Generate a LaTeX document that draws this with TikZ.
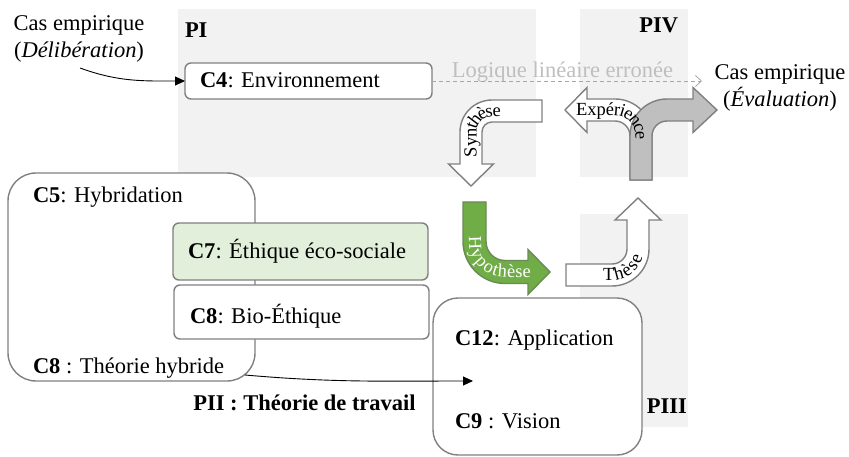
\documentclass[tikz,border=0pt]{standalone}
\usepackage{fontspec}
\setmainfont{Liberation Serif}
\usetikzlibrary{arrows.meta,decorations.text}

\definecolor{bgpanel}{HTML}{F2F2F2}
\definecolor{edgegray}{HTML}{808080}
\definecolor{arrowgray}{HTML}{BFBFBF}
\definecolor{leafgreen}{HTML}{70AD47}
\definecolor{leafedge}{HTML}{6A8A58}
\definecolor{paleleaf}{HTML}{E2EFDA}
\definecolor{faintgray}{HTML}{BFBFBF}
\definecolor{dashgray}{HTML}{A6A6A6}

\newcommand\bodysize{\fontsize{22.5}{27}\selectfont}
\newcommand\arrowsize{\fontsize{18.5}{18.5}\selectfont}

\begin{document}
\begin{tikzpicture}[x=1pt,y=1pt,
  every node/.style={inner sep=0pt, outer sep=0pt},
  txt/.style={font=\bodysize},
  panellbl/.style={font=\bodysize\bfseries},
  cbox/.style={draw=edgegray, line width=1.4pt, rounded corners=6pt, fill=white},
  link/.style={line width=0.9pt, -{Triangle[length=10pt,width=9pt]}},
  blockw/.style={draw=edgegray, line width=1.4pt, fill=white},
  blockg/.style={draw=edgegray, line width=1.4pt, fill=arrowgray},
  blockgreen/.style={draw=leafedge, line width=1.4pt, fill=leafgreen},
  bendtext/.style={decorate, decoration={text along path, text align=left, raise=-5.5pt, text={#1}}}
]
\useasboundingbox (0,0) rectangle (849,456);

% phase panels
\fill[bgpanel] (178,279) rectangle (536,447);
\fill[bgpanel] (580,279) rectangle (688,447);
\fill[bgpanel] (580,29) rectangle (688,242);

% phase titles
\node[panellbl, anchor=base west] (pI) at (185,418) {PI};
\node[panellbl, anchor=base east] (pIV) at (678,423) {PIV};
\node[panellbl, anchor=base east] (pIII) at (687,43) {PIII};
\node[panellbl, anchor=base] (pII) at (304.5,46) {PII : Théorie de travail};

% concept boxes
\node[cbox, rounded corners=28pt, minimum width=247pt, minimum height=208pt, anchor=south west] (c5) at (8,75) {};
\node[cbox, fill=paleleaf, minimum width=255pt, minimum height=57pt, anchor=south west] (c7) at (173,176) {};
\node[cbox, minimum width=255pt, minimum height=54pt, anchor=south west] (c8) at (174,117) {};
\node[cbox, rounded corners=25pt, minimum width=209pt, minimum height=157pt, anchor=south west] (c12) at (433,1) {};
\node[cbox, minimum width=247pt, minimum height=36pt, anchor=south west] (c4) at (185,357) {};

% box texts
\node[txt, anchor=base west] (t4) at (200,368) {\textbf{C4}: Environnement};
\node[txt, anchor=base west] (t5) at (33,253) {\textbf{C5}: Hybridation};
\node[txt, anchor=base west] (t7) at (188,198) {\textbf{C7}: Éthique éco-sociale};
\node[txt, anchor=base west] (t8) at (190,133) {\textbf{C8}: Bio-Éthique};
\node[txt, anchor=base west] (t8h) at (33,83) {\textbf{C8} : Théorie hybride};
\node[txt, anchor=base west] (t12) at (455,111) {\textbf{C12}: Application};
\node[txt, anchor=base west] (t9) at (455,28) {\textbf{C9} : Vision};

% empirical cases
\node[txt, align=center] (casL) at (79,416.75) {Cas empirique\\(\textit{Délibération})};
\node[txt, align=center] (casR) at (780,368) {Cas empirique\\(\textit{Évaluation})};
\node[txt, text=faintgray, anchor=base] (logic) at (562.5,378) {Logique linéaire erronée};

% connectors
\coordinate (delib) at (80,388);
\coordinate (logend) at (702,375);
\coordinate (c5out) at (245,81);
\coordinate (c12in) at (473,75);

\draw[link] (delib) to[out=-20,in=180] (c4.west);
\draw[dashgray, line width=0.8pt, dash pattern=on 4pt off 3pt,
      -{Straight Barb[length=6pt,width=11pt]}] (c4.east) -- (logend);
\draw[link] (c5out) to[out=-5,in=180] (c12in);

% Synthese bent arrow
\filldraw[blockw] (542,356) -- (492,356) arc[start angle=90,end angle=180,radius=32]
  -- (460,292) -- (448.5,292) -- (471,270) -- (493.5,292) -- (482,292) -- (482,324)
  arc[start angle=180,end angle=90,radius=10] -- (542,334) -- cycle;
\path[bendtext={|\arrowsize|Synthèse}] (471,299) -- (471,324)
  arc[start angle=180,end angle=90,radius=21] -- (535,345);

% Experience split arrow: white branch behind, grey branch in front
\filldraw[blockw] (652,276) -- (652,320) arc[start angle=0,end angle=90,radius=37]
  -- (587,357) -- (587,368.5) -- (565,346) -- (587,323.5) -- (587,335) -- (615,335)
  arc[start angle=90,end angle=0,radius=15] -- (630,276) -- cycle;
\filldraw[blockg] (630,276) -- (630,320) arc[start angle=180,end angle=90,radius=37]
  -- (693,357) -- (693,368.5) -- (717,346) -- (693,323.5) -- (693,335) -- (667,335)
  arc[start angle=90,end angle=180,radius=15] -- (652,276) -- cycle;
\path[bendtext={|\arrowsize|Expérience}] (576,346) -- (615,346)
  arc[start angle=90,end angle=0,radius=26] -- (641,285);

% Hypothese bent arrow
\filldraw[blockgreen] (463,254) -- (463,214.5) arc[start angle=180,end angle=270,radius=42]
  -- (528,172.5) -- (528,161.5) -- (550,184) -- (528,206.5) -- (528,195.5) -- (505,195.5)
  arc[start angle=270,end angle=180,radius=19] -- (486,254) -- cycle;
\path[bendtext={|\arrowsize\color{white}|Hypothèse}] (474.5,220) -- (474.5,214.5)
  arc[start angle=180,end angle=270,radius=30.5] -- (545,184);

% These bent arrow
\filldraw[blockw] (566,192) -- (612,192) arc[start angle=270,end angle=360,radius=15]
  -- (627,236) -- (615,236) -- (638,258) -- (661,236) -- (649,236) -- (649,207)
  arc[start angle=0,end angle=-90,radius=37] -- (566,170) -- cycle;
\path[bendtext={|\arrowsize|Thèse}] (603,181) -- (612,181)
  arc[start angle=270,end angle=360,radius=26] -- (638,235);
\end{tikzpicture}
\end{document}
